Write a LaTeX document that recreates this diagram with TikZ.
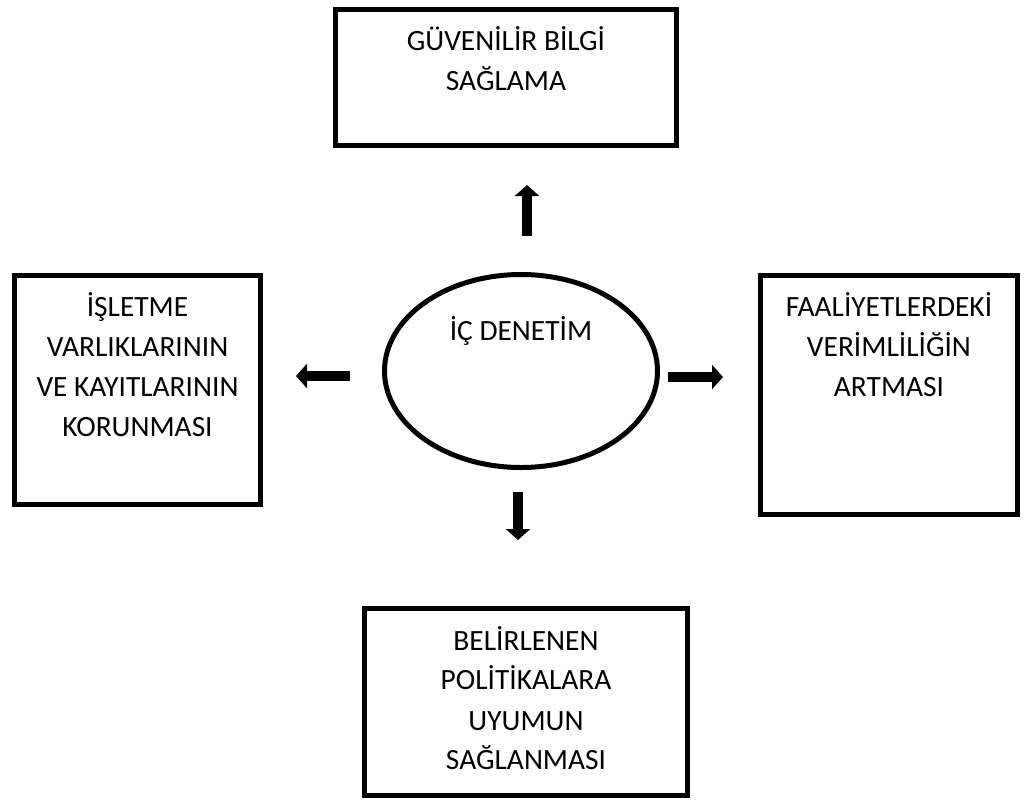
\documentclass[tikz,border=0pt]{standalone}
\usepackage{fontspec}
\setmainfont{Carlito}
\usetikzlibrary{arrows.meta,positioning,shapes.geometric}
\tikzset{%
    goal/.style={rectangle,draw,line width=2.5pt,inner sep=0pt},
    core/.style={ellipse,draw,line width=2.5pt,inner sep=0pt,minimum width=136.5pt,minimum height=96.5pt},
    txt/.style={align=center,inner sep=0pt,outer sep=0pt,font=\fontsize{14.7pt}{20pt}\selectfont},
    blk/.style={line width=5pt,-{Triangle[width=12pt,length=5.5pt]}}
}

\begin{document}
\begin{tikzpicture}[x=0.5pt,y=-0.5pt,node distance=10pt]
            \useasboundingbox (0,0) rectangle (1025,800);
            \node [goal,minimum width=170.5pt,minimum height=68pt] (guven) at (506,77.5) {};
            \node [goal,minimum width=123pt,minimum height=114.5pt] (varlik) at (137.5,390) {};
            \node [goal,minimum width=128.5pt,minimum height=119.5pt] (verim) at (889,395) {};
            \node [goal,minimum width=161.5pt,minimum height=93.5pt] (uyum) at (526,702) {};
            \node [core] (ic) at (521,371) {};
            %%%%%
            \node [txt,below=of guven.north] (guven-t) {GÜVENİLİR BİLGİ\\SAĞLAMA};
            \node [txt,below=of varlik.north] (varlik-t) {İŞLETME\\VARLIKLARININ\\VE KAYITLARININ\\KORUNMASI};
            \node [txt,below=of verim.north] (verim-t) {FAALİYETLERDEKİ\\VERİMLİLİĞİN\\ARTMASI};
            \node [txt,below=of uyum.north] (uyum-t) {BELİRLENEN\\POLİTİKALARA\\UYUMUN\\SAĞLANMASI};
            \node [txt,below=22.3pt of ic.north] (ic-t) {İÇ DENETİM};
            %%%%%
            \coordinate (up-s) at (527,236);
            \coordinate (up-e) at (527,185);
            \coordinate (lt-s) at (350,376);
            \coordinate (lt-e) at (296,376);
            \coordinate (rt-s) at (668,377);
            \coordinate (rt-e) at (723,377);
            \coordinate (dn-s) at (518,492);
            \coordinate (dn-e) at (518,540);
            \draw [blk] (up-s) -- (up-e);
            \draw [blk] (lt-s) -- (lt-e);
            \draw [blk] (rt-s) -- (rt-e);
            \draw [blk] (dn-s) -- (dn-e);
\end{tikzpicture}
\end{document}
